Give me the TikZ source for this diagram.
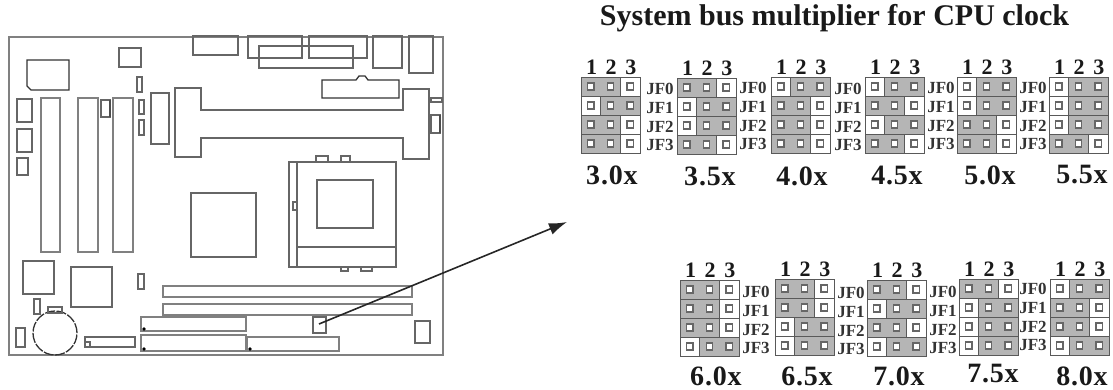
\documentclass[tikz,border=0pt]{standalone}
\usepackage{fontspec}
\setmainfont{Liberation Serif}
\newfontfamily\multfont[LetterSpace=3]{Liberation Serif}
\usetikzlibrary{arrows.meta}
\tikzset{board/.style={draw=black!60,line width=1.1pt}}
\tikzset{board free/.style={draw=black!80,line width=1.3pt}}
\tikzset{slot/.style={draw=black!50,line width=1.6pt}}
\definecolor{jumper}{gray}{0.71}

\begin{document}
\begin{tikzpicture}[x=1pt,y=-1pt,
	row box/.style={draw=black!65,line width=1pt},
	pin/.style={draw=black!60,fill=white,line width=1.3pt},
	pin num/.style={font=\fontsize{22}{22}\selectfont\bfseries,text=black!90,inner sep=0pt},
	jf label/.style={font=\fontsize{17}{17}\selectfont\bfseries,text=black!80,inner sep=0pt},
	mult label/.style={font=\fontsize{28}{28}\selectfont\multfont\bfseries,text=black!90,inner sep=0pt},
	mark dot/.style={fill=black}]

	\useasboundingbox (0,0) rectangle (1113,389);

	% Board outline
	\draw [slot] (9,37) rectangle (443,355);

	% Connectors along the top edge
	\foreach \xa/\ya/\xb/\yb in {193/36/238/55, 248/36/302/58, 259/46/353/68,
		309/36/367/58, 373/36/402/68, 409/36/433/73}
		\draw [board] (\xa,\ya) rectangle (\xb,\yb);

	% Parts with plain outlines
	\foreach \xa/\ya/\xb/\yb in {119/48/141/67, 137/77/142/92, 139/100/144/114,
		139/120/144/135, 151/93/169/144, 17/99/32/122, 17/129/32/152, 17/158/28/175,
		101/100/110/117, 431/98/442/102, 431/115/440/133, 23/261/54/294,
		71/267/112/307, 191/193/256/257, 138/274/144/289, 34/299/40/314, 16/328/25/347,
		85/337/135/347, 85/342/90/347, 415/321/430/343, 313/317/326/333}
		\draw [board] (\xa,\ya) rectangle (\xb,\yb);

	% Memory and expansion slots
	\foreach \xa/\ya/\xb/\yb in {41/98/60/252, 78/98/98/252, 113/98/133/252,
		163/286/412/297, 163/304/412/315, 141/317/246/331, 141/335/246/351, 247/337/339/351}
		\draw [slot] (\xa,\ya) rectangle (\xb,\yb);
	\foreach \xa/\ya in {144/329, 144/349, 250/349}
		\fill [mark dot] (\xa,\ya) circle (1.8pt);

	% Chip with the cut corner
	\draw [board free] (27,60) -- (69,60) -- (69,90) -- (31,90) -- (27,86) -- cycle;

	% Thick sides of the two small headers
	\draw [line width=1.8pt,black!70] (110,100) -- (110,117);
	\draw [line width=1.8pt,black!70] (440,115) -- (440,133);

	% Processor card slot
	\draw [board] (175,88) -- (201,88) -- (201,110) -- (403,110) -- (403,89) -- (429,89)
		-- (429,159) -- (403,159) -- (403,138) -- (201,138) -- (201,157) -- (175,157) -- cycle;

	% Header with the bump
	\draw [board free] (322,80) -- (356,80) -- (359,76) -- (365,76) -- (368,80) -- (399,80)
		-- (399,98) -- (322,98) -- cycle;

	% Socket
	\draw [board] (289,162) rectangle (396,267);
	\draw [board] (297,162) -- (297,267);
	\draw [board] (297,247) -- (396,247);
	\draw [board] (317,180) rectangle (373,228);
	\draw [board] (293,202) rectangle (297,210);
	\foreach \xa/\xb in {316/328, 341/350}
		\draw [board] (\xa,162) -- (\xa,156) -- (\xb,156) -- (\xb,162);
	\foreach \xa/\xb in {341/348, 361/372}
		\draw [board] (\xa,267) -- (\xa,271) -- (\xb,271) -- (\xb,267);

	% Battery
	\draw [board free,dash pattern=on 10pt off 1.5pt] (55,333) circle (22pt);
	\draw [board] (48,307) rectangle (62,313);

	% Arrow from the header to the table
	\coordinate (jf header) at (319,324);
	\coordinate (table side) at (567,222);
	\draw [-{Latex[length=18pt,width=12pt]},line width=1.6pt,black!85] (jf header) -- (table side);

	\node [inner sep=0pt,font=\fontsize{30}{30}\selectfont\bfseries,text=black!90] (title)
		at (834.5,18) {System bus multiplier for CPU clock};

	% Jumper blocks: left, top, centre of the multiplier, its y, text, first grey pin per row
	\foreach \bx/\by/\mx/\my/\mult/\setting in {
		581/77/612/175/3.0x/{0,1,0,0}, 677/78/710/176/3.5x/{0,1,1,0},
		771/77/802/176/4.0x/{1,0,0,0}, 865/77/897/175/4.5x/{1,0,1,0},
		957/77/990/175/5.0x/{1,1,0,0}, 1049/77/1082/175/5.5x/{1,1,1,0},
		680/280/716/376/6.0x/{0,0,0,1}, 775/279/807/376/6.5x/{0,0,1,1},
		867/280/899/376/7.0x/{0,1,0,1}, 959/279/993/374/7.5x/{0,1,1,1},
		1050/279/1082/376/8.0x/{1,0,0,1}}{
		\foreach \jf [count=\row from 0] in \setting {
			\pgfmathsetmacro{\rowtop}{\by+\row*19}
			\draw [row box,fill=white] (\bx,\rowtop) rectangle (\bx+59,\rowtop+19);
			\draw [row box,fill=jumper] (\bx+\jf*19.7,\rowtop) rectangle (\bx+\jf*19.7+39.3,\rowtop+19);
			\foreach \col in {0,1,2}
				\draw [pin] (\bx+\col*19.7+6.6,\rowtop+6) rectangle (\bx+\col*19.7+13.1,\rowtop+13);
		}
		\foreach \num [count=\col from 0] in {1,2,3}
			\node [pin num] (num-\bx-\num) at (\bx+\col*19.7+10.5,\by-10) {\num};
		\node [mult label] (mult-\bx) at (\mx,\my) {\mult};
	}

	% JF labels beside the blocks
	\foreach \lx/\ly in {660/89, 753/88, 848/89, 941/88, 1033/88,
		756/292, 851/293, 943/292, 1033/289}
		\foreach \name/\off in {0/0, 1/19, 2/38, 3/56}
			\node [jf label] (jf-\lx-\name) at (\lx,\ly+\off) {JF\name};

\end{tikzpicture}
\end{document}
